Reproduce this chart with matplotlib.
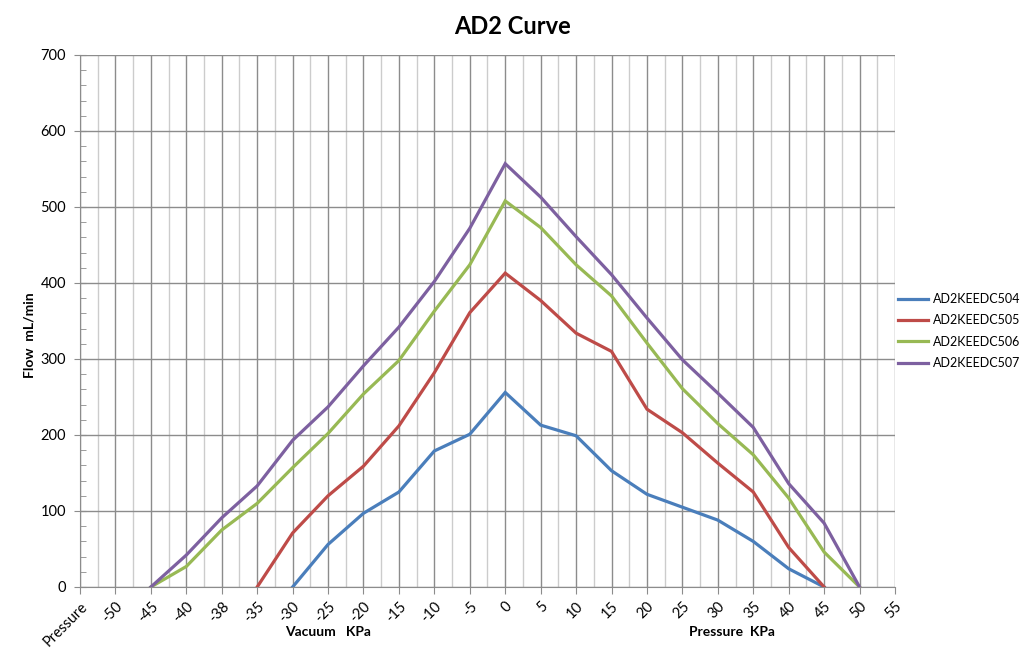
import numpy as np
import matplotlib
matplotlib.use('Agg')
import matplotlib.pyplot as plt
from matplotlib.ticker import MultipleLocator, FixedLocator

plt.rcParams['font.family'] = ['Lato', 'DejaVu Sans']

# Category axis labels (Excel-style category axis)
categories = ['Pressure', '-50', '-45', '-40', '-38', '-35', '-30', '-25', '-20', '-15',
              '-10', '-5', '0', '5', '10', '15', '20', '25', '30', '35', '40', '45', '50', '55']

# Flow values (mL/min) per category, None where the series has no point
n = None
ad2keedc504 = [n, n, n, n, n, n, 0, 56, 97, 125, 179, 201, 256, 213, 199, 153, 122, 105, 88, 60, 24, 0, n, n]
ad2keedc505 = [n, n, n, n, n, 0, 71, 120, 159, 212, 282, 361, 413, 377, 334, 310, 234, 203, 163, 125, 52, 0, n, n]
ad2keedc506 = [n, n, 0, 27, 75, 110, 157, 202, 254, 298, 363, 424, 508, 473, 424, 383, 321, 261, 215, 174, 117, 46, 0, n]
ad2keedc507 = [n, n, 0, 42, 91, 133, 193, 237, 291, 342, 402, 472, 557, 513, 461, 411, 354, 299, 255, 210, 136, 84, 0, n]

series_names = ['AD2KEEDC504', 'AD2KEEDC505', 'AD2KEEDC506', 'AD2KEEDC507']
series_colors = ['#4A7EBB', '#BE4B48', '#98B954', '#7D60A0']
series = [ad2keedc504, ad2keedc505, ad2keedc506, ad2keedc507]

fig = plt.figure(figsize=(10.24, 6.63), dpi=100)
ax = fig.add_axes([80 / 1024, 1 - 587 / 663, (895 - 80) / 1024, (587 - 55) / 663])

x = np.arange(len(categories))
for name, color, vals in zip(series_names, series_colors, series):
    y = np.array([np.nan if v is None else v for v in vals], dtype=float)
    ax.plot(x, y, color=color, lw=2.3, label=name, solid_joinstyle='miter', zorder=3)

ax.set_xlim(0, len(categories) - 1)
ax.set_ylim(0, 700)

# grid
ax.xaxis.set_major_locator(FixedLocator(x))
ax.xaxis.set_minor_locator(FixedLocator(x[:-1] + 0.5))
ax.yaxis.set_major_locator(MultipleLocator(100))
ax.yaxis.set_minor_locator(MultipleLocator(20))
ax.grid(which='major', axis='both', color='#8c8c8c', lw=1.0, zorder=0)
ax.grid(which='minor', axis='x', color='#cccccc', lw=1.0, zorder=0)

ax.set_xticklabels(categories, rotation=45, ha='right', rotation_mode='anchor', fontsize=10.5)
ax.tick_params(axis='x', which='major', direction='out', length=5, color='#8c8c8c', pad=4)
ax.tick_params(axis='x', which='minor', length=0)
ax.tick_params(axis='y', which='major', direction='inout', length=8, color='#8c8c8c', labelsize=10.5, pad=6)
ax.tick_params(axis='y', which='minor', direction='in', length=4, color='#8c8c8c')

for s in ['right', 'top']:
    ax.spines[s].set_visible(False)
for s in ['left', 'bottom']:
    ax.spines[s].set_color('#8c8c8c')

fig.text(0.5, 1 - 27 / 663, 'AD2 Curve', ha='center', va='center', fontsize=17, fontweight='bold')
fig.text(328 / 1024, 1 - 632 / 663, 'Vacuum   KPa', ha='center', va='center', fontsize=10, fontweight='bold')
fig.text(732 / 1024, 1 - 632 / 663, 'Pressure  KPa', ha='center', va='center', fontsize=10, fontweight='bold')
fig.text(30 / 1024, 1 - 335 / 663, 'Flow  mL/min', ha='center', va='center', rotation=90,
         fontsize=10, fontweight='bold')

fig.legend(loc='center left', bbox_to_anchor=(898 / 1024, 1 - 331 / 663), frameon=False, fontsize=9,
           handlelength=2.4, handletextpad=0.4, labelspacing=0.75, borderpad=0, borderaxespad=0)

fig.savefig('out.png', dpi=100)
